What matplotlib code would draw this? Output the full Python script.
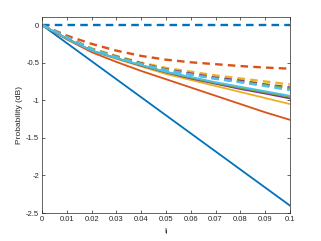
import numpy as np
import matplotlib
matplotlib.use("Agg")
import matplotlib.pyplot as plt

plt.rcParams['font.family'] = ['Liberation Sans', 'DejaVu Sans']
plt.rcParams['axes.unicode_minus'] = False
plt.rcParams['mathtext.default'] = 'regular'

# x values (l_l)
x = [0, 0.01, 0.02, 0.03, 0.04, 0.05, 0.06, 0.07, 0.08, 0.09, 0.1]

# solid curves
blue_s   = [0, -0.24, -0.48, -0.72, -0.96, -1.20, -1.44, -1.68, -1.92, -2.16, -2.40]
red_s    = [0, -0.19, -0.36, -0.49, -0.61, -0.72, -0.83, -0.94, -1.05, -1.16, -1.26]
yellow_s = [0, -0.18, -0.34, -0.45, -0.55, -0.65, -0.73, -0.81, -0.89, -0.97, -1.05]
purple_s = [0, -0.18, -0.34, -0.44, -0.54, -0.63, -0.71, -0.78, -0.85, -0.91, -0.975]
green_s  = [0, -0.18, -0.34, -0.44, -0.535, -0.625, -0.70, -0.77, -0.835, -0.895, -0.955]
cyan_s   = [0, -0.18, -0.34, -0.44, -0.53, -0.62, -0.69, -0.76, -0.82, -0.88, -0.94]

# dashed curves
blue_d   = [0, 0, 0, 0, 0, 0, 0, 0, 0, 0, 0]
red_d    = [0, -0.14, -0.25, -0.34, -0.41, -0.46, -0.495, -0.52, -0.545, -0.565, -0.58]
yellow_d = [0, -0.16, -0.31, -0.41, -0.50, -0.57, -0.62, -0.67, -0.71, -0.75, -0.79]
purple_d = [0, -0.16, -0.32, -0.42, -0.51, -0.59, -0.645, -0.70, -0.74, -0.79, -0.83]
green_d  = [0, -0.16, -0.32, -0.42, -0.515, -0.595, -0.655, -0.71, -0.755, -0.80, -0.845]
cyan_d   = [0, -0.16, -0.32, -0.43, -0.52, -0.60, -0.66, -0.715, -0.76, -0.81, -0.865]

c_blue = '#0072BD'
c_red = '#D95319'
c_yellow = '#EDB120'
c_purple = '#7E2F8E'
c_green = '#77AC30'
c_cyan = '#4DBEEE'

fig = plt.figure(figsize=(3.21, 2.41), dpi=100)
ax = fig.add_axes([0.131, 0.116, 0.772, 0.813])

lw_s = 1.3
lw_d = 1.7
ax.plot(x, blue_s, color=c_blue, lw=lw_s)
ax.plot(x, red_s, color=c_red, lw=lw_s)
ax.plot(x, yellow_s, color=c_yellow, lw=lw_s)
ax.plot(x, purple_s, color=c_purple, lw=lw_s)
ax.plot(x, green_s, color=c_green, lw=lw_s)
ax.plot(x, cyan_s, color=c_cyan, lw=lw_s)

dash = (0, (3.2, 2.2))
ax.plot(x, blue_d, color=c_blue, lw=lw_d, linestyle=dash)
ax.plot(x, red_d, color=c_red, lw=lw_d, linestyle=dash)
ax.plot(x, yellow_d, color=c_yellow, lw=lw_d, linestyle=dash)
ax.plot(x, purple_d, color=c_purple, lw=lw_d, linestyle=dash)
ax.plot(x, green_d, color=c_green, lw=lw_d, linestyle=dash)
ax.plot(x, cyan_d, color=c_cyan, lw=lw_d, linestyle=dash)

ax.set_xlim(0, 0.1)
ax.set_ylim(-2.5, 0.106)
xt = [0, 0.01, 0.02, 0.03, 0.04, 0.05, 0.06, 0.07, 0.08, 0.09, 0.1]
ax.set_xticks(xt)
ax.set_xticklabels(['0', '0.01', '0.02', '0.03', '0.04', '0.05', '0.06', '0.07', '0.08', '0.09', '0.1'])
yt = [-2.5, -2, -1.5, -1, -0.5, 0]
ax.set_yticks(yt)
ax.set_yticklabels(['-2.5', '-2', '-1.5', '-1', '-0.5', '0'])

for s in ax.spines.values():
    s.set_color('#262626')
    s.set_linewidth(0.5)
ax.tick_params(direction='in', length=2.5, width=0.5, colors='#262626',
               labelsize=5.5, top=True, right=True, pad=2)

ax.set_xlabel(r'l$_l$', fontsize=6, color='#262626', labelpad=3)
ax.set_ylabel('Probability (dB)', fontsize=6, color='#262626', labelpad=2)

plt.savefig('out.png', dpi=100)
